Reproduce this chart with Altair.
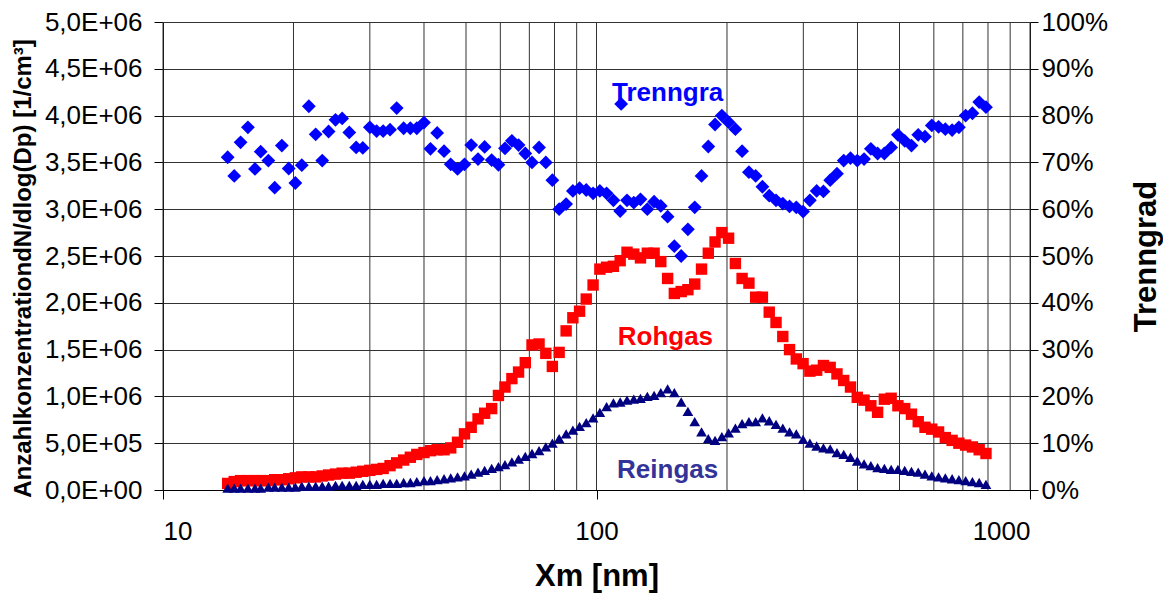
import altair as alt
import pandas as pd

# particle diameter (nm), SMPS channel midpoints
x_nm = [14.1, 14.6, 15.1, 15.7, 16.3, 16.8, 17.5, 18.1, 18.8, 19.5,
        20.2, 20.9, 21.7, 22.5, 23.3, 24.1, 25.0, 25.9, 26.9, 27.9,
        28.9, 30.0, 31.1, 32.2, 33.4, 34.6, 35.9, 37.2, 38.5, 40.0,
        41.4, 42.9, 44.5, 46.1, 47.8, 49.6, 51.4, 53.3, 55.2, 57.3,
        59.4, 61.5, 63.8, 66.1, 68.5, 71.0, 73.7, 76.4, 79.1, 82.0,
        85.1, 88.2, 91.4, 94.7, 98.2, 101.8, 105.5, 109.4, 113.4, 117.6,
        121.9, 126.3, 131.0, 135.8, 140.7, 145.9, 151.2, 156.8, 162.5, 168.5,
        174.7, 181.1, 187.7, 194.6, 201.7, 209.1, 216.7, 224.7, 232.9, 241.4,
        250.3, 259.5, 269.0, 278.8, 289.0, 299.6, 310.6, 322.0, 333.8, 346.0,
        358.7, 371.8, 385.4, 399.5, 414.2, 429.4, 445.1, 461.4, 478.3, 495.8,
        514.0, 532.8, 552.3, 572.5, 593.5, 615.3, 637.8, 661.2, 685.4, 710.5,
        736.5, 763.5, 791.5]

# Rohgas, in units of 1E+06 1/cm3
rohgas = [0.07, 0.09, 0.10, 0.10, 0.10, 0.10, 0.10, 0.11, 0.11, 0.12,
          0.13, 0.14, 0.14, 0.14, 0.15, 0.16, 0.17, 0.18, 0.18, 0.19,
          0.20, 0.21, 0.22, 0.23, 0.26, 0.29, 0.32, 0.35, 0.38, 0.40,
          0.42, 0.43, 0.43, 0.45, 0.51, 0.60, 0.67, 0.76, 0.82, 0.87,
          1.01, 1.10, 1.19, 1.26, 1.36, 1.55, 1.56, 1.46, 1.32, 1.47,
          1.70, 1.84, 1.91, 2.04, 2.19, 2.36, 2.38, 2.39, 2.45, 2.54,
          2.52, 2.48, 2.53, 2.53, 2.44, 2.26, 2.10, 2.12, 2.14, 2.20,
          2.36, 2.53, 2.65, 2.75, 2.69, 2.42, 2.26, 2.21, 2.06, 2.06,
          1.90, 1.79, 1.64, 1.50, 1.40, 1.35, 1.27, 1.28, 1.33, 1.31,
          1.24, 1.17, 1.10, 0.99, 0.96, 0.90, 0.83, 0.97, 0.98, 0.90,
          0.87, 0.81, 0.73, 0.67, 0.65, 0.62, 0.56, 0.53, 0.50, 0.48,
          0.46, 0.43, 0.39]

# Reingas, in units of 1E+06 1/cm3
reingas = [0.02, 0.02, 0.02, 0.02, 0.02, 0.02, 0.03, 0.03, 0.03, 0.03,
           0.03, 0.04, 0.04, 0.04, 0.04, 0.04, 0.05, 0.05, 0.05, 0.05,
           0.06, 0.06, 0.06, 0.07, 0.07, 0.07, 0.08, 0.08, 0.09, 0.10,
           0.10, 0.11, 0.12, 0.13, 0.14, 0.15, 0.17, 0.19, 0.21, 0.23,
           0.25, 0.27, 0.30, 0.33, 0.36, 0.39, 0.42, 0.46, 0.50, 0.55,
           0.60, 0.64, 0.68, 0.72, 0.77, 0.83, 0.89, 0.93, 0.94, 0.96,
           0.97, 0.98, 1.00, 1.01, 1.04, 1.08, 1.04, 0.94, 0.84, 0.73,
           0.62, 0.55, 0.53, 0.57, 0.61, 0.66, 0.71, 0.73, 0.73, 0.77,
           0.74, 0.70, 0.66, 0.62, 0.60, 0.54, 0.50, 0.47, 0.45, 0.44,
           0.40, 0.38, 0.35, 0.31, 0.28, 0.26, 0.24, 0.23, 0.22, 0.22,
           0.21, 0.20, 0.19, 0.17, 0.15, 0.14, 0.13, 0.12, 0.11, 0.10,
           0.09, 0.08, 0.06]

# Trenngrad in %
trenngrad = [71.1, 67.1, 74.3, 77.5, 68.6, 72.3, 70.4, 64.6, 73.6, 68.7,
             65.6, 69.4, 82.0, 76.0, 70.4, 76.6, 79.1, 79.4, 76.4, 73.2,
             73.1, 77.5, 76.7, 76.7, 77.0, 81.6, 77.3, 77.3, 77.3, 78.5,
             72.9, 76.3, 72.4, 69.6, 68.6, 69.6, 73.7, 70.7, 73.3, 70.5,
             69.5, 73.0, 74.6, 73.7, 71.9, 70.0, 73.2, 70.0, 66.2, 60.0,
             61.1, 63.9, 64.5, 64.1, 63.4, 63.9, 63.4, 61.9, 59.6, 61.9,
             61.4, 62.1, 60.0, 61.6, 60.7, 58.4, 52.1, 50.0, 55.7, 60.4,
             67.1, 73.4, 78.1, 80.0, 78.6, 77.1, 72.4, 67.9, 67.1, 64.8,
             62.9, 61.9, 61.2, 60.6, 60.4, 59.5, 61.9, 63.9, 63.8, 66.2,
             67.6, 70.4, 70.9, 70.4, 70.7, 72.9, 71.9, 71.9, 73.2, 75.9,
             74.6, 73.6, 75.9, 75.5, 77.9, 77.6, 77.1, 76.9, 77.5, 80.0,
             80.5, 82.9, 81.8]

grid_x = [10, 20, 30, 40, 50, 60, 70, 80, 90,
          100, 200, 300, 400, 500, 600, 700, 800, 900, 1000]
major_x = [10, 100, 1000]
left_ticks = [0, 0.5, 1.0, 1.5, 2.0, 2.5, 3.0, 3.5, 4.0, 4.5, 5.0]
right_ticks = [0, 10, 20, 30, 40, 50, 60, 70, 80, 90, 100]

left_label_text = ["Rohgas", "Reingas"]
left_label_x = [144.2, 145.9]
left_label_y = [1.635, 0.214]
left_label_color = ["#FF0000", "#333399"]

right_label_text = ["Trenngra"]
right_label_x = [145.9]
right_label_y = [84.8]
key_x = [114.0]
key_y = [82.5]

FONT = "Liberation Sans"

series_df = pd.DataFrame({
    "x": x_nm * 2,
    "v": rohgas + reingas,
    "s": ["Rohgas"] * len(x_nm) + ["Reingas"] * len(x_nm),
})
tr_df = pd.DataFrame({"x": x_nm, "p": trenngrad})
grid_df = pd.DataFrame({"x": grid_x})
lab_left_df = pd.DataFrame({"x": left_label_x, "v": left_label_y,
                            "t": left_label_text, "c": left_label_color})
lab_right_df = pd.DataFrame({"x": right_label_x, "p": right_label_y, "t": right_label_text})
key_df = pd.DataFrame({"x": key_x, "p": key_y})

xscale = alt.Scale(type="log", domain=[10, 1000], nice=False)
xaxis = alt.Axis(title="Xm [nm]", values=major_x, format=".0f", grid=False,
                 labelFont=FONT, labelFontSize=26, labelColor="black",
                 labelPadding=19, tickSize=9, tickColor="black",
                 domainColor="black", titleFont=FONT, titleFontSize=31,
                 titleFontWeight="bold", titleColor="black", titlePadding=17)


def xenc():
    return alt.X("x:Q", scale=xscale, axis=xaxis)


left_expr = ("datum.value == 0 ? '0,0E+00' : (datum.value < 1 ? "
             "replace(format(datum.value*10, '.1f'), '.', ',') + 'E+05' : "
             "replace(format(datum.value, '.1f'), '.', ',') + 'E+06')")
yscale_l = alt.Scale(domain=[0, 5], nice=False)
yaxis_l = alt.Axis(title="AnzahlkonzentrationdN/dlog(Dp) [1/cm³]", orient="left",
                   values=left_ticks, labelExpr=left_expr, grid=True,
                   gridColor="#333333", gridWidth=1,
                   labelFont=FONT, labelFontSize=26, labelColor="black",
                   labelPadding=12, tickSize=9, tickColor="black",
                   domainColor="black", titleFont=FONT, titleFontSize=24,
                   titleFontWeight="bold", titleColor="black", titlePadding=9,
                   titleY=246)


def ylenc(field="v:Q"):
    return alt.Y(field, scale=yscale_l, axis=yaxis_l)


yscale_r = alt.Scale(domain=[0, 100], nice=False)
yaxis_r = alt.Axis(title="Trenngrad", orient="right", values=right_ticks,
                   labelExpr="datum.value + '%'", grid=False,
                   labelFont=FONT, labelFontSize=26, labelColor="black",
                   labelPadding=3, tickSize=8, tickColor="black",
                   domainColor="black", titleFont=FONT, titleFontSize=31,
                   titleFontWeight="bold", titleColor="black",
                   titleAngle=270, titleBaseline="top", titlePadding=24)


def yrenc():
    return alt.Y("p:Q", scale=yscale_r, axis=yaxis_r)


vgrid = alt.Chart(grid_df).mark_rule(color="#333333", strokeWidth=1).encode(x=xenc())

pts = alt.Chart(series_df).mark_point(filled=True, opacity=1, strokeWidth=0).encode(
    x=xenc(),
    y=ylenc(),
    shape=alt.Shape("s:N", scale=alt.Scale(domain=["Rohgas", "Reingas"],
                                           range=["square", "triangle-up"]), legend=None),
    color=alt.Color("s:N", scale=alt.Scale(domain=["Rohgas", "Reingas"],
                                           range=["#FF0000", "#000080"]), legend=None),
    size=alt.Size("s:N", scale=alt.Scale(domain=["Rohgas", "Reingas"],
                                         range=[130, 115]), legend=None),
    order=alt.Order("s:N", sort="descending"),
)

ltext = alt.Chart(lab_left_df).mark_text(font=FONT, fontSize=26, fontWeight="bold",
                                         align="center", baseline="middle").encode(
    x=xenc(), y=ylenc(), text="t:N", color=alt.Color("c:N", scale=None))

left = alt.layer(vgrid, pts, ltext)

diam = alt.Chart(tr_df).mark_point(shape="diamond", filled=True, opacity=1,
                                   strokeWidth=0, size=190, color="#0000FF").encode(
    x=xenc(), y=yrenc())
key = alt.Chart(key_df).mark_point(shape="diamond", filled=True, opacity=1,
                                   strokeWidth=0, size=190, color="#0000FF").encode(
    x=xenc(), y=yrenc())
rtext = alt.Chart(lab_right_df).mark_text(font=FONT, fontSize=26, fontWeight="bold",
                                          align="center", baseline="middle",
                                          color="#0000FF").encode(
    x=xenc(), y=yrenc(), text="t:N")

right = alt.layer(diam, key, rtext)

chart = alt.layer(left, right).resolve_scale(y="independent").properties(
    width=867, height=468,
    padding={"left": 155, "top": 14, "right": 133, "bottom": 104},
    autosize=alt.AutoSizeParams(type="none"),
    background="white",
).configure_view(strokeWidth=0)

chart.save("out.html", embed_options={"renderer": "svg", "actions": False})
